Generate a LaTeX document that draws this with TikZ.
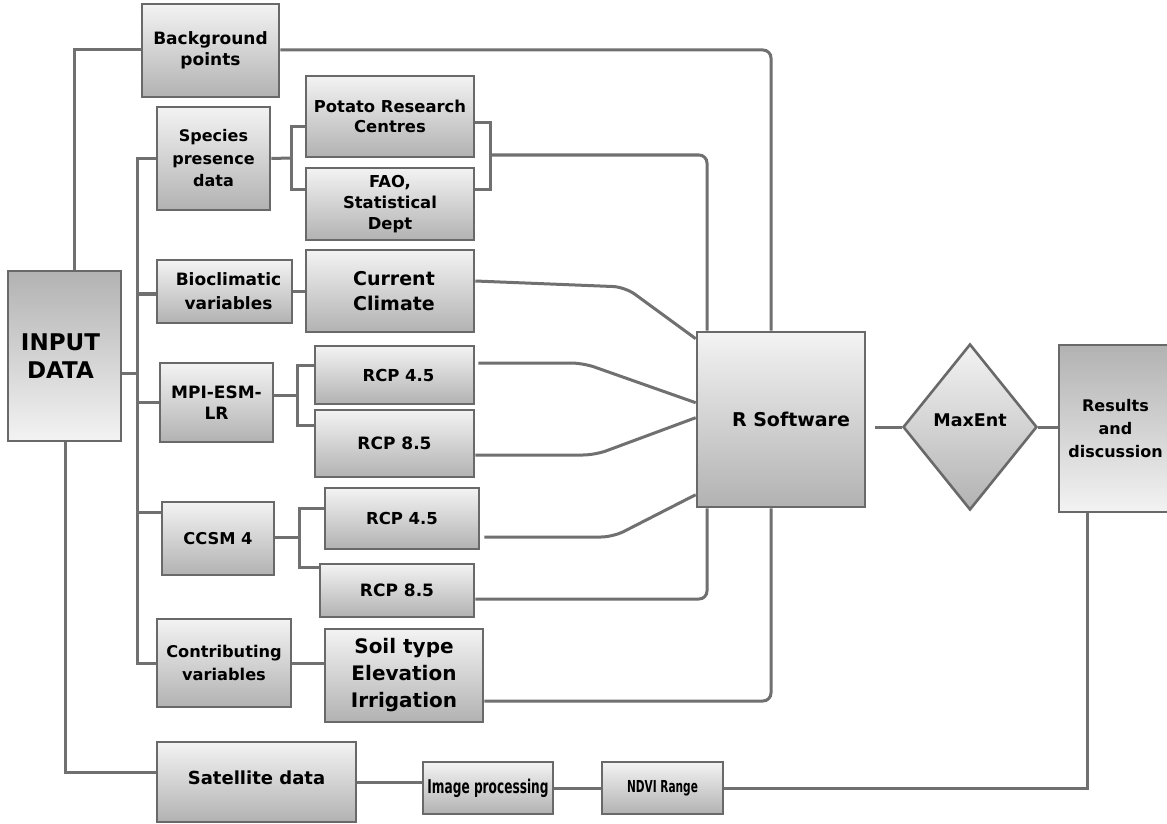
\documentclass[tikz,border=0pt]{standalone}
\usepackage{fontspec}
\setmainfont{DejaVu Sans}
\newfontfamily\condfont[FakeStretch=0.64]{DejaVu Sans}
\usetikzlibrary{shapes.geometric,calc}
\definecolor{boxline}{RGB}{105,105,105}
\definecolor{conline}{RGB}{112,112,112}
\definecolor{gtop}{RGB}{243,243,243}
\definecolor{gbot}{RGB}{178,178,178}
\newcommand{\myfs}[2]{\fontsize{#1}{#2}\selectfont\bfseries}
\newcommand{\bx}[7]{\node[#6, minimum width={(#4-#2)*1pt}, minimum height={(#5-#3)*1pt}] (#1) at ({(#2+#4)/2},{(#3+#5)/2}) {#7};}
\tikzset{
  box/.style={rectangle, draw=boxline, line width=2.6pt, top color=gtop, bottom color=gbot, inner sep=0pt, align=center, text=black},
  boxr/.style={box, top color=gbot, bottom color=gtop},
  conn/.style={draw=conline, line width=3pt},
}
\begin{document}
\begin{tikzpicture}[x=1pt,y=-1pt]
\useasboundingbox (0,0) rectangle (1167,824);
\clip (0,0) rectangle (1167,824);
\fill[white] (0,0) rectangle (1167,824);

% nodes
\bx{bg}{142}{4}{279}{97}{box,font=\myfs{17}{21}}{Background\\points}
\bx{sp}{157}{107}{270}{210}{box,font=\myfs{16}{22.5}}{Species\\presence\\data}
\bx{prc}{306}{76}{474}{157}{box,font=\myfs{16.4}{20}}{Potato Research\\Centres}
\bx{fao}{306}{168}{474}{240}{box,font=\myfs{16.4}{21}}{FAO,\\Statistical\\Dept}
\bx{bio}{157}{260}{292}{323}{box,font=\myfs{17}{24}}{\hspace*{8pt}Bioclimatic\\\hspace*{8pt}variables}
\bx{cc}{306}{250}{474}{332}{box,font=\myfs{19}{25}}{\hspace*{8pt}Current\\\hspace*{8pt}Climate}
\bx{input}{8}{271}{121}{441}{boxr,label={[xshift=-4pt,align=center,font=\myfs{23}{28}]center:INPUT\\DATA}}{}
\bx{mpi}{160}{363}{273}{442}{box,font=\myfs{17}{21}}{MPI-ESM-\\LR}
\bx{mA}{315}{346}{474}{404}{box,font=\myfs{16.5}{20}}{\hspace*{8pt}RCP 4.5}
\bx{mB}{315}{410}{474}{477}{box,font=\myfs{17}{20}}{RCP 8.5}
\bx{cA}{325}{488}{479}{549}{box,font=\myfs{16.5}{20}}{RCP 4.5}
\bx{ccsm}{162}{502}{274}{575}{box,font=\myfs{16.3}{20}}{CCSM 4}
\bx{cB}{320}{564}{474}{617}{box,font=\myfs{17}{20}}{RCP 8.5}
\bx{cv}{157}{619}{291}{707}{box,font=\myfs{16.2}{23}}{Contributing\\variables}
\bx{soil}{325}{629}{483}{722}{box,font=\myfs{20}{27}}{Soil type\\Elevation\\Irrigation}
\bx{sat}{157}{742}{356}{822}{box,label={[yshift=4pt,font=\myfs{18}{22}]center:Satellite data}}{}
\bx{imp}{423}{762}{553}{814}{box,font=\condfont\fontsize{19}{22}\selectfont\bfseries}{Image processing}
\bx{ndvi}{602}{762}{723}{814}{box,font=\condfont\fontsize{16.5}{20}\selectfont\bfseries}{NDVI Range}
\bx{rs}{697}{332}{865}{507}{box,label={[xshift=10pt,font=\myfs{19}{23}]center:R Software}}{}
\node[diamond, draw=boxline, line width=2.6pt, top color=gtop, bottom color=gbot, minimum width=134pt, minimum height=166pt, inner sep=0pt, label={[yshift=7pt,font=\myfs{17.5}{21}]center:MaxEnt}] (maxent) at (970,427) {};
\bx{res}{1059}{345}{1172}{512}{boxr,font=\myfs{16}{23}}{Results\\and\\discussion}

% connectors
\coordinate (jA) at (74,50);
\draw[conn] (jA |- input.north) -- (jA) -- (jA -| bg.west);
\coordinate (jB) at (771,50);
\draw[conn, rounded corners=8pt] (bg.east |- jB) -- (jB) -- (jB |- rs.north);
\coordinate (jC) at (65,772);
\draw[conn] (jC |- input.south) -- (jC) -- (jC -| sat.west);

\coordinate (bus) at (137,373);
\draw[conn] (bus -| input.east) -- (bus);
\draw[conn] (sp.west) -- (sp.west -| bus) -- (bus |- cv.west) -- (cv.west);
\coordinate (jBio) at (137,294);
\draw[conn, line width=4.5pt] (jBio) -- (jBio -| bio.west);
\draw[conn] (bus |- mpi.west) -- (mpi.west);
\coordinate (jD) at (137,512);
\draw[conn] (jD) -- (jD -| ccsm.west);

\coordinate (jE) at (291,158);
\draw[conn] (sp.east) -- (jE);
\draw[conn] ($(prc.west)+(0,10.5)$) -| (jE) |- ($(fao.west)+(0,-15)$);
\coordinate (jF) at (490,155);
\draw[conn] ($(prc.east)+(0,6.5)$) -| (jF) |- ($(fao.east)+(0,-15)$);
\coordinate (jG) at (707,155);
\draw[conn, rounded corners=8pt] (jF) -- (jG) -- (jG |- rs.north);

\draw[conn] (bio.east) -- (bio.east -| cc.west);
\coordinate (bA) at (625,287);
\draw[conn, rounded corners=12pt] ($(cc.east)+(0,-10)$) -- (bA) -- ($(rs.north west)+(0,8)$);

\coordinate (jH) at (297,395);
\draw[conn] (mpi.east |- jH) -- (jH);
\draw[conn] ($(mA.west)+(0,-10)$) -| (jH) |- ($(mB.west)+(0,-18.5)$);
\coordinate (bB) at (583,363);
\draw[conn, rounded corners=12pt] ($(mA.east)+(3,-12)$) -- (bB) -- ($(rs.north west)+(0,72)$);
\coordinate (bC) at (595,455);
\draw[conn, rounded corners=12pt] ($(mB.east)+(0,11.5)$) -- (bC) -- ($(rs.north west)+(0,87)$);

\coordinate (jI) at (299,537);
\draw[conn] (ccsm.east |- jI) -- (jI);
\draw[conn] ($(cA.west)+(0,-10.5)$) -| (jI) |- ($(cB.west)+(0,-23.5)$);
\coordinate (bD) at (613,537);
\draw[conn, rounded corners=12pt] ($(cA.east)+(4,18.5)$) -- (bD) -- ($(rs.north west)+(0,164)$);
\coordinate (jJ) at (707,599);
\draw[conn, rounded corners=8pt] ($(cB.east)+(0,8.5)$) -- (jJ) -- (jJ |- rs.south);

\draw[conn] (cv.east) -- (cv.east -| soil.west);
\coordinate (jK) at (771,701);
\draw[conn, rounded corners=8pt] ($(soil.east)+(0,25.5)$) -- (jK) -- (jK |- rs.south);

\draw[conn] ($(rs.east |- maxent.west)+(9,0)$) -- (maxent.west);
\draw[conn] (maxent.east) -- (res.west |- maxent.east);
\coordinate (jL) at (1087,788);
\draw[conn] (jL |- res.south) -- (jL) -- (ndvi.east);
\draw[conn] (sat.east) -- (sat.east -| imp.west);
\draw[conn] (imp.east) -- (ndvi.west);
\end{tikzpicture}
\end{document}
